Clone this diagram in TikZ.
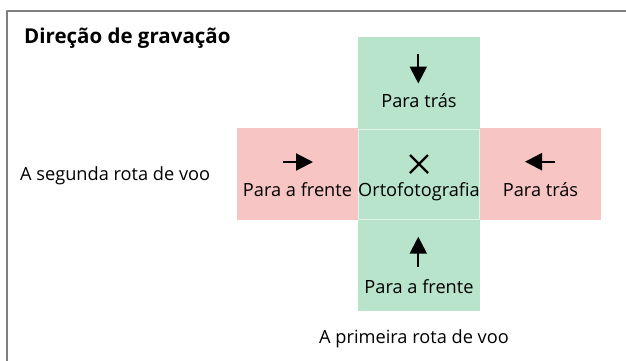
\documentclass[tikz,border=0pt]{standalone}
\usepackage{fontspec}
\setmainfont{Open Sans}
\usetikzlibrary{positioning,arrows.meta}
\definecolor{verde}{HTML}{B8E4CC}
\definecolor{rosa}{HTML}{F7C5C3}
\definecolor{moldura}{HTML}{7F7F7F}
\begin{document}
\begin{tikzpicture}[x=1pt,y=-1pt,>={Triangle[length=17pt,width=17pt]}, line join=round,
        quadro/.style={minimum width=121.5pt,minimum height=91.5pt,inner sep=0pt,outer sep=0pt},
        rotulo/.style={font=\fontsize{18.2}{20}\selectfont,inner sep=0pt},
        seta/.style={->,line width=2.2pt}]
        \useasboundingbox (0,0) rectangle (626,360);
        % moldura (so o topo e a esquerda aparecem)
        \draw[moldura,line width=2pt] (6.7,362) -- (6.7,11) -- (628,11);
        \node[rotulo,font=\fontsize{20.5}{22}\selectfont\bfseries,anchor=base west] (titulo) at (24,43) {Direção de gravação};
        % quadros
        \node[quadro,fill=verde] (orto) at (419,174.2) {};
        \node[quadro,fill=verde,above=0pt of orto] (tras) {};
        \node[quadro,fill=verde,below=0pt of orto] (frente) {};
        \node[quadro,fill=rosa,left=0pt of orto] (esq) {};
        \node[quadro,fill=rosa,right=0pt of orto] (dir) {};
        \draw[white!55!verde,line width=0.8pt] ([xshift=.6pt,yshift=-.6pt]orto.north west) rectangle ([xshift=-.6pt,yshift=.6pt]orto.south east);
        % setas e rotulos
        \draw[seta] (418.3,54) -- (418.3,83.5);
        \node[rotulo,anchor=base] (ltras) at (tras.center |- 0,107.7) {Para trás};
        \draw[seta] (283,162) -- (313,162);
        \node[rotulo,anchor=base] (lesq) at (esq.center |- 0,196) {Para a frente};
        \draw[line width=2.3pt] (410,155) -- (428,173) (410,173) -- (428,155);
        \node[rotulo,anchor=base] (lorto) at (orto.center |- 0,196) {Ortofotografia};
        \draw[seta] (555,161.7) -- (525,161.7);
        \node[rotulo,anchor=base] (ldir) at (dir.center |- 0,196) {Para trás};
        \draw[seta] (418.3,266.7) -- (418.3,236.7);
        \node[rotulo,anchor=base] (lfrente) at (frente.center |- 0,293.3) {Para a frente};
        % rotas de voo
        \node[rotulo,anchor=base west] (rota2) at (20,180.5) {A segunda rota de voo};
        \node[rotulo,anchor=base west] (rota1) at (319,343) {A primeira rota de voo};
\end{tikzpicture}
\end{document}
